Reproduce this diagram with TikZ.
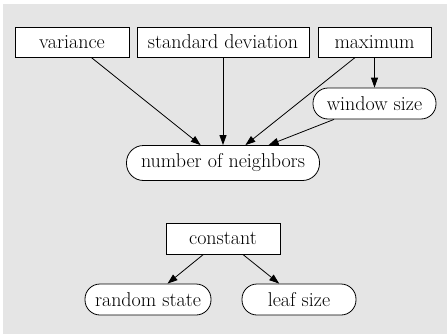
\documentclass[tikz,border=0pt]{standalone}
\usetikzlibrary{arrows.meta}

\begin{document}
\begin{tikzpicture}[x=1pt, y=-1pt, >={Triangle[length=10pt,width=7pt]},
  box/.style={draw, fill=white, line width=0.8pt, inner sep=0pt,
    minimum height=30pt, font=\fontsize{20}{24}\selectfont},
  rbox/.style={box, rounded corners=15pt}]

\useasboundingbox (0,0) rectangle (448,335);
\fill [gray!20] (3,4) rectangle (447,334);

\foreach \n/\t/\x/\w in {var/variance/72/114, std/standard deviation/223/172, max/maximum/374.5/113}
  \node [box, minimum width=\w pt] (\n) at (\x,42) {\t};

\node [rbox, minimum width=123pt, minimum height=31pt] (win) at (374.5,103.5) {window size};
\node [rbox, minimum width=193pt, minimum height=35pt, rounded corners=17pt] (nn) at (223,163) {number of neighbors};

\node [box, minimum width=114pt, minimum height=31pt] (const) at (223,238.5) {constant};

\foreach \n/\t/\x/\w in {rnd/random state/148/126, leaf/leaf size/299/114}
  \node [rbox, minimum width=\w pt, minimum height=31pt] (\n) at (\x,299.5) {\t};

\foreach \s in {var,std,max,win}
  \draw [->, line width=0.8pt] (\s) -- (nn);

\draw [->, line width=0.8pt] (max) -- (win);

\foreach \t in {rnd,leaf}
  \draw [->, line width=0.8pt] (const) -- (\t);

\end{tikzpicture}
\end{document}
